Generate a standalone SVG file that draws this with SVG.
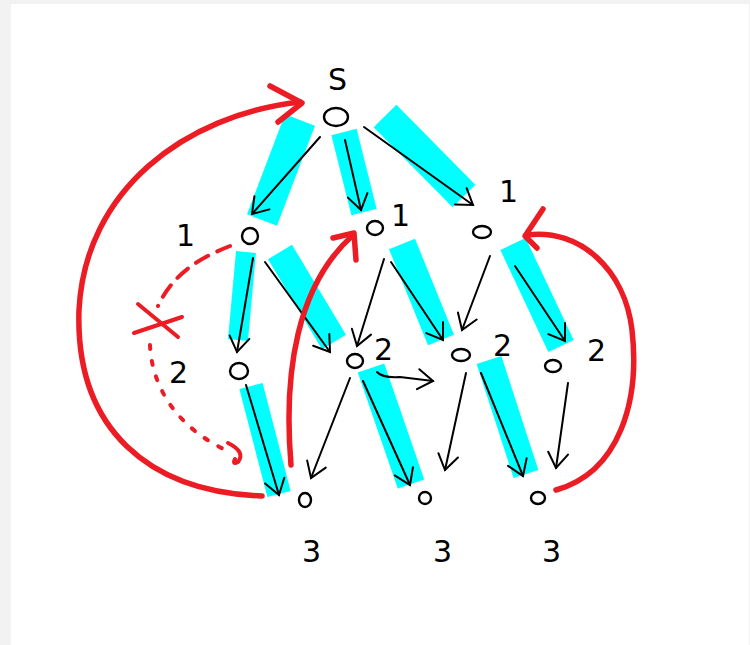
<svg xmlns="http://www.w3.org/2000/svg" width="750" height="645" viewBox="0 0 750 645">
<defs>
<style>
.hl{stroke:#00ffff;fill:none;stroke-linecap:butt;stroke-linejoin:round}
.e{stroke:#000;stroke-width:2;fill:none;stroke-linecap:round;marker-end:url(#ah)}
.n{stroke:#000;stroke-width:2.4;fill:none}
.t{font-family:"DejaVu Sans","Liberation Sans",sans-serif;font-size:30px;fill:#000}
.r{stroke:#ec1c24;stroke-width:5.5;fill:none;stroke-linecap:round;stroke-linejoin:round}
.rd{stroke:#ec1c24;stroke-width:4;fill:none;stroke-linecap:round}
</style>
<marker id="ah" viewBox="-18 -12 20 24" markerWidth="20" markerHeight="24" refX="0" refY="0" orient="auto" markerUnits="userSpaceOnUse">
<path d="M-15,-10 L0,0 L-15,10" fill="none" stroke="#000" stroke-width="2" stroke-linecap="round"/>
</marker>
</defs>
<rect x="0" y="0" width="750" height="645" fill="#f2f2f2"/>
<rect x="11" y="4" width="738" height="641" fill="#ffffff"/>

<g id="highlights">
<line class="hl" x1="300" y1="120" x2="262" y2="220" stroke-width="32"/>
<line class="hl" x1="344" y1="132" x2="364" y2="212" stroke-width="26"/>
<line class="hl" x1="385" y1="116" x2="464" y2="196" stroke-width="32"/>
<line class="hl" x1="246" y1="252" x2="238" y2="340" stroke-width="20"/>
<line class="hl" x1="280" y1="252" x2="334" y2="342" stroke-width="28"/>
<line class="hl" x1="402" y1="244" x2="441" y2="340" stroke-width="28"/>
<line class="hl" x1="513" y1="244" x2="561" y2="346" stroke-width="28"/>
<line class="hl" x1="251" y1="386" x2="279" y2="494" stroke-width="24"/>
<line class="hl" x1="371" y1="368" x2="411" y2="484" stroke-width="28"/>
<line class="hl" x1="489" y1="360" x2="526" y2="474" stroke-width="26"/>
</g>

<g id="connectors">
<line class="e" x1="320" y1="137" x2="252" y2="214"/>
<line class="e" x1="345" y1="140" x2="361" y2="210"/>
<line class="e" x1="364" y1="127" x2="473" y2="205"/>
<line class="e" x1="253" y1="258" x2="237" y2="352"/>
<line class="e" x1="265" y1="262" x2="330" y2="352"/>
<line class="e" x1="384" y1="259" x2="357" y2="346"/>
<line class="e" x1="391" y1="262" x2="443" y2="340"/>
<line class="e" x1="490" y1="256" x2="462" y2="330"/>
<line class="e" x1="515" y1="266" x2="565" y2="341"/>
<path class="e" d="M377,372 Q382,378 400,377 L433,381"/>
<line class="e" x1="246" y1="385" x2="279" y2="495"/>
<line class="e" x1="350" y1="378" x2="311" y2="478"/>
<line class="e" x1="363" y1="381" x2="410" y2="485"/>
<line class="e" x1="466" y1="373" x2="445" y2="470"/>
<line class="e" x1="481" y1="373" x2="523" y2="476"/>
<line class="e" x1="568" y1="383" x2="556" y2="468"/>
</g>

<g id="red">
<path class="r" d="M262,496 C150,492 75,430 79,310 C85,190 185,115 300,102"/>
<path class="r" d="M270,86 L302,103 L278,122"/>
<path class="r" d="M291,465 C283,370 298,285 352,236"/>
<path class="r" d="M333,238 L354,233 L356,260"/>
<path class="r" d="M556,490 C620,472 640,400 632,330 C625,270 580,228 527,235"/>
<path class="r" d="M543,209 L525,236 L537,248"/>
<path class="rd" d="M230,246 C205,256 175,270 158,306" stroke-dasharray="14,10"/>
<path class="rd" d="M138,304 L178,337 M134,333 L182,317"/>
<path class="rd" d="M150,345 C152,390 180,430 230,452" stroke-dasharray="4,12"/>
<path class="rd" d="M228,443 Q246,452 238,462 Q232,465 235,459"/>
</g>

<g id="nS"><ellipse class="n" cx="336" cy="117" rx="12" ry="9"/><text class="t" x="328" y="90" font-size="40">S</text></g>
<g id="nA"><ellipse class="n" cx="250" cy="236" rx="8" ry="8"/><text class="t" x="176" y="246" font-size="32">1</text></g>
<g id="nB"><ellipse class="n" cx="375" cy="228" rx="8" ry="7"/><text class="t" x="391" y="226">1</text></g>
<g id="nC"><ellipse class="n" cx="482" cy="232" rx="9" ry="6"/><text class="t" x="499" y="202">1</text></g>
<g id="nD"><ellipse class="n" cx="239" cy="371" rx="9" ry="8"/><text class="t" x="169" y="383" font-size="32">2</text></g>
<g id="nE"><ellipse class="n" cx="355" cy="361" rx="8" ry="7"/><text class="t" x="374" y="360" font-size="26">2</text></g>
<g id="nF"><ellipse class="n" cx="461" cy="355" rx="9" ry="6"/><text class="t" x="493" y="356" font-size="26">2</text></g>
<g id="nG"><ellipse class="n" cx="553" cy="366" rx="8" ry="6"/><text class="t" x="587" y="361" font-size="26">2</text></g>
<g id="nH"><ellipse class="n" cx="305" cy="500" rx="6" ry="7"/><text class="t" x="302" y="562" font-size="36">3</text></g>
<g id="nI"><ellipse class="n" cx="425" cy="498" rx="6" ry="6"/><text class="t" x="433" y="562" font-size="36">3</text></g>
<g id="nJ"><ellipse class="n" cx="538" cy="498" rx="7" ry="6"/><text class="t" x="542" y="562" font-size="36">3</text></g>
</svg>
